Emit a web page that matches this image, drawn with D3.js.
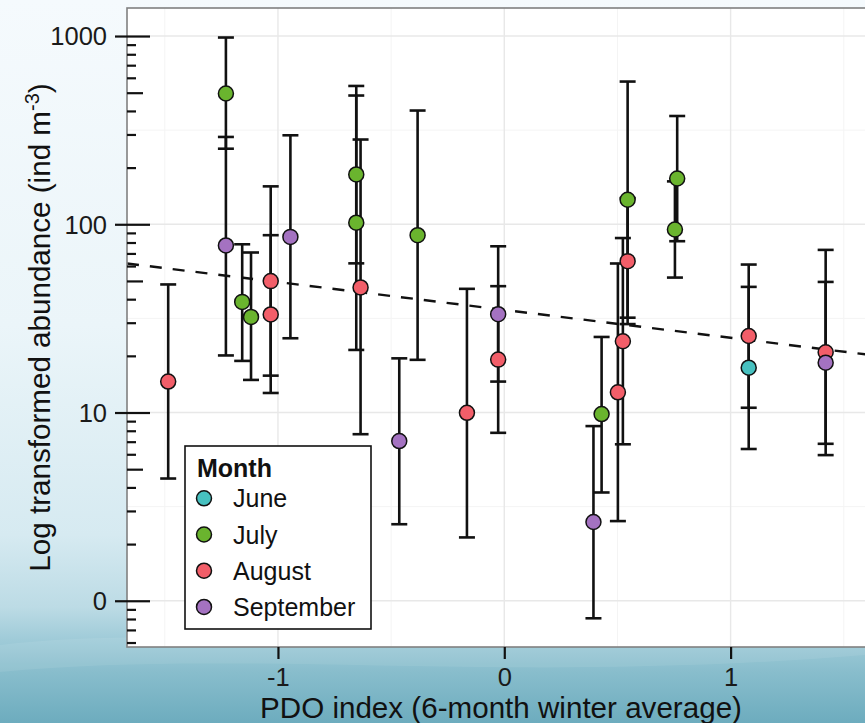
<!DOCTYPE html>
<html>
<head>
<meta charset="utf-8">
<script src="https://cdn.jsdelivr.net/npm/d3@7"></script>
<style>
  html, body { margin: 0; padding: 0; overflow: hidden; }
  svg { display: block; font-family: "Liberation Sans", Arial, sans-serif; }
</style>
</head>
<body>
<div id="chart"></div>
<script>
// data
var months = ["June", "July", "August", "September"];
var monthColors = ["#47c1c0", "#6ab42e", "#f25e69", "#a472c1"];

var obsMonth = ["August", "July", "September", "July", "July", "August", "August", "September",
  "July", "July", "August", "September", "July", "August", "September", "August",
  "September", "July", "August", "August", "August", "July", "July", "July",
  "August", "June", "August", "September"];
var pdo = [-1.485, -1.230, -1.230, -1.158, -1.119, -1.032, -1.032, -0.945,
  -0.654, -0.654, -0.635, -0.464, -0.383, -0.165, -0.027, -0.027,
  0.394, 0.430, 0.502, 0.524, 0.545, 0.545, 0.764, 0.754,
  1.080, 1.080, 1.420, 1.420];
var abundance = [14.6, 495, 77.2, 38.7, 32.2, 49.9, 33.2, 85.7,
  184, 102, 46.2, 7.05, 87.5, 9.96, 33.3, 19.1,
  2.62, 9.81, 12.8, 23.9, 63.7, 135, 175, 93.8,
  25.5, 17.3, 20.9, 18.4];
var lower = [4.46, 252, 20.1, 18.8, 14.9, 15.7, 12.7, 24.8,
  62, 21.5, 7.67, 2.55, 19.05, 2.17, 14.6, 7.8,
  0.807, 3.76, 2.65, 6.78, 29.5, 31.9, 81.3, 52.1,
  10.6, 6.4, 5.94, 6.82];
var upper = [47.9, 982, 291, 78.3, 70.8, 159, 87.5, 297,
  543, 483, 282, 19.4, 402, 45.4, 76.4, 46.9,
  8.47, 25.2, 61.9, 84.5, 137.7, 573, 376, 169,
  61.1, 46.5, 73.1, 49.4];

// fitted line: log10(abundance) = a + b * pdo
var fitIntercept = 1.545;
var fitSlope = -0.148;

var yTickValues = [1000, 100, 10, 1];
var yTickLabels = ["1000", "100", "10", "0"];
var xTickValues = [-1, 0, 1];
var xTickLabels = ["-1", "0", "1"];
var logMinor = [0.6, 0.7, 0.8, 0.9, 2, 3, 4, 6, 7, 8, 9, 20, 30, 40, 60, 70, 80, 90, 200, 300, 400, 600, 700, 800, 900];
var logMid = [5, 50, 500];

var svgWidth = 865;
var svgHeight = 723;

var panel = { left: 127, top: 8, right: 875, bottom: 647 };

var svg = d3.select("#chart")
  .append("svg")
  .attr("width", svgWidth)
  .attr("height", svgHeight);

// background
var defs = svg.append("defs");
var bg = defs.append("linearGradient")
  .attr("id", "bg")
  .attr("x1", 0).attr("y1", 0).attr("x2", 0).attr("y2", 1);
[[0, "#f5fafd"], [0.45, "#ebf5f9"], [0.74, "#d6eaf1"], [0.84, "#bcdbe5"],
 [0.885, "#9fcbd8"], [0.93, "#88bdcc"], [1, "#6dacbe"]].forEach(function(s) {
  bg.append("stop").attr("offset", s[0]).attr("stop-color", s[1]);
});
svg.append("rect")
  .attr("width", svgWidth)
  .attr("height", svgHeight)
  .attr("fill", "url(#bg)");
svg.append("path")
  .attr("d", "M0,645 C200,620 500,665 865,640 L865,655 C500,685 250,648 0,672 Z")
  .attr("fill", "#ffffff")
  .attr("opacity", 0.08);

defs.append("clipPath").attr("id", "clip")
  .append("rect")
  .attr("x", panel.left).attr("y", panel.top)
  .attr("width", panel.right - panel.left)
  .attr("height", panel.bottom - panel.top);

var xScale = d3.scaleLinear()
  .domain([-1.667, 1.638])
  .range([panel.left, panel.right]);

var yScale = d3.scaleLog()
  .domain([0.568, 1409])
  .range([panel.bottom, panel.top]);

// panel
svg.append("rect")
  .attr("x", panel.left).attr("y", panel.top)
  .attr("width", panel.right - panel.left)
  .attr("height", panel.bottom - panel.top)
  .attr("fill", "#ffffff");

var plot = svg.append("g").attr("clip-path", "url(#clip)");

// grid
var xMinor = [-1.5, -0.5, 0.5, 1.5];
var yMinor = [Math.pow(10, 0.5), Math.pow(10, 1.5), Math.pow(10, 2.5)];

plot.selectAll(".gx-minor").data(xMinor).enter().append("line")
  .attr("x1", d => xScale(d)).attr("x2", d => xScale(d))
  .attr("y1", panel.top).attr("y2", panel.bottom)
  .attr("stroke", "#f4f4f4").attr("stroke-width", 1);
plot.selectAll(".gy-minor").data(yMinor).enter().append("line")
  .attr("y1", d => yScale(d)).attr("y2", d => yScale(d))
  .attr("x1", panel.left).attr("x2", panel.right)
  .attr("stroke", "#f4f4f4").attr("stroke-width", 1);
plot.selectAll(".gx").data(xTickValues).enter().append("line")
  .attr("x1", d => xScale(d)).attr("x2", d => xScale(d))
  .attr("y1", panel.top).attr("y2", panel.bottom)
  .attr("stroke", "#e8e8e8").attr("stroke-width", 1.4);
plot.selectAll(".gy").data(yTickValues).enter().append("line")
  .attr("y1", d => yScale(d)).attr("y2", d => yScale(d))
  .attr("x1", panel.left).attr("x2", panel.right)
  .attr("stroke", "#e8e8e8").attr("stroke-width", 1.4);

// error bars
var idx = d3.range(pdo.length);
var cap = 8;

var bars = plot.selectAll(".bar").data(idx).enter().append("g")
  .attr("stroke", "#111111")
  .attr("stroke-width", 2.6);
bars.append("line")
  .attr("x1", i => xScale(pdo[i])).attr("x2", i => xScale(pdo[i]))
  .attr("y1", i => yScale(lower[i])).attr("y2", i => yScale(upper[i]));
bars.append("line")
  .attr("x1", i => xScale(pdo[i]) - cap).attr("x2", i => xScale(pdo[i]) + cap)
  .attr("y1", i => yScale(upper[i])).attr("y2", i => yScale(upper[i]));
bars.append("line")
  .attr("x1", i => xScale(pdo[i]) - cap).attr("x2", i => xScale(pdo[i]) + cap)
  .attr("y1", i => yScale(lower[i])).attr("y2", i => yScale(lower[i]));

// fitted line
var xd = xScale.domain();
plot.append("line")
  .attr("x1", xScale(xd[0]))
  .attr("y1", yScale(Math.pow(10, fitIntercept + fitSlope * xd[0])))
  .attr("x2", xScale(xd[1]))
  .attr("y2", yScale(Math.pow(10, fitIntercept + fitSlope * xd[1])))
  .attr("stroke", "#111111")
  .attr("stroke-width", 2.4)
  .attr("stroke-dasharray", "12,11");

// points
var color = d3.scaleOrdinal().domain(months).range(monthColors);

plot.selectAll(".pt").data(idx).enter().append("circle")
  .attr("cx", i => xScale(pdo[i]))
  .attr("cy", i => yScale(abundance[i]))
  .attr("r", 7.5)
  .attr("fill", i => color(obsMonth[i]))
  .attr("stroke", "#111111")
  .attr("stroke-width", 1.5);

// panel border
svg.append("rect")
  .attr("x", panel.left).attr("y", panel.top)
  .attr("width", panel.right - panel.left)
  .attr("height", panel.bottom - panel.top)
  .attr("fill", "none")
  .attr("stroke", "#808080")
  .attr("stroke-width", 1.6);

// axes
var leftAxis = d3.axisLeft(yScale)
  .tickValues(yTickValues)
  .tickFormat((d, i) => yTickLabels[i])
  .tickSize(12)
  .tickPadding(8);

var yAxisG = svg.append("g")
  .attr("transform", `translate(${panel.left}, 0)`)
  .call(leftAxis);

// log ticks inside the panel
function logTicks(values, size) {
  svg.append("g")
    .attr("transform", `translate(${panel.left}, 0)`)
    .call(d3.axisRight(yScale).tickValues(values).tickSize(size).tickFormat(""))
    .call(g => g.select(".domain").remove())
    .selectAll("line").attr("stroke", "#111111").attr("stroke-width", 2.2);
}
logTicks(yTickValues, 23);
logTicks(logMid, 16);
logTicks(logMinor, 9);

var bottomAxis = d3.axisBottom(xScale)
  .tickValues(xTickValues)
  .tickFormat((d, i) => xTickLabels[i])
  .tickSize(12)
  .tickPadding(9);

var xAxisG = svg.append("g")
  .attr("transform", `translate(0, ${panel.bottom})`)
  .call(bottomAxis);

[yAxisG, xAxisG].forEach(function(g) {
  g.select(".domain").remove();
  g.selectAll("line").attr("stroke", "#111111").attr("stroke-width", 2.2);
  g.selectAll("text")
    .attr("font-size", "25.5px")
    .attr("fill", "#1a1a1a");
});
yAxisG.selectAll("text").attr("dy", "0.35em");

// axis titles
svg.append("text")
  .attr("x", (panel.left + panel.right) / 2)
  .attr("y", 718)
  .attr("text-anchor", "middle")
  .attr("font-size", "29.6px")
  .attr("fill", "#111111")
  .text("PDO index (6-month winter average)");

var yTitle = svg.append("text")
  .attr("transform", `translate(50, ${(panel.top + panel.bottom) / 2}) rotate(-90)`)
  .attr("text-anchor", "middle")
  .attr("font-size", "29.6px")
  .attr("fill", "#111111");
yTitle.append("tspan").text("Log transformed abundance (ind m");
yTitle.append("tspan").attr("font-size", "20px").attr("dy", "-11").text("-3");
yTitle.append("tspan").attr("dy", "11").text(")");

// legend
var legend = svg.append("g").attr("transform", "translate(185, 446)");
legend.append("rect")
  .attr("width", 186)
  .attr("height", 183)
  .attr("fill", "#ffffff")
  .attr("stroke", "#111111")
  .attr("stroke-width", 1.6);
legend.append("text")
  .attr("x", 12)
  .attr("y", 31)
  .attr("font-size", "25px")
  .attr("font-weight", "bold")
  .attr("fill", "#111111")
  .text("Month");
var items = legend.selectAll(".item").data(months).enter().append("g")
  .attr("transform", (d, i) => `translate(0, ${52.3 + i * 36.2})`);
items.append("circle")
  .attr("cx", 19)
  .attr("r", 7.5)
  .attr("fill", d => color(d))
  .attr("stroke", "#111111")
  .attr("stroke-width", 1.5);
items.append("text")
  .attr("x", 48)
  .attr("y", 9)
  .attr("font-size", "25px")
  .attr("fill", "#111111")
  .text(d => d);
</script>
</body>
</html>
